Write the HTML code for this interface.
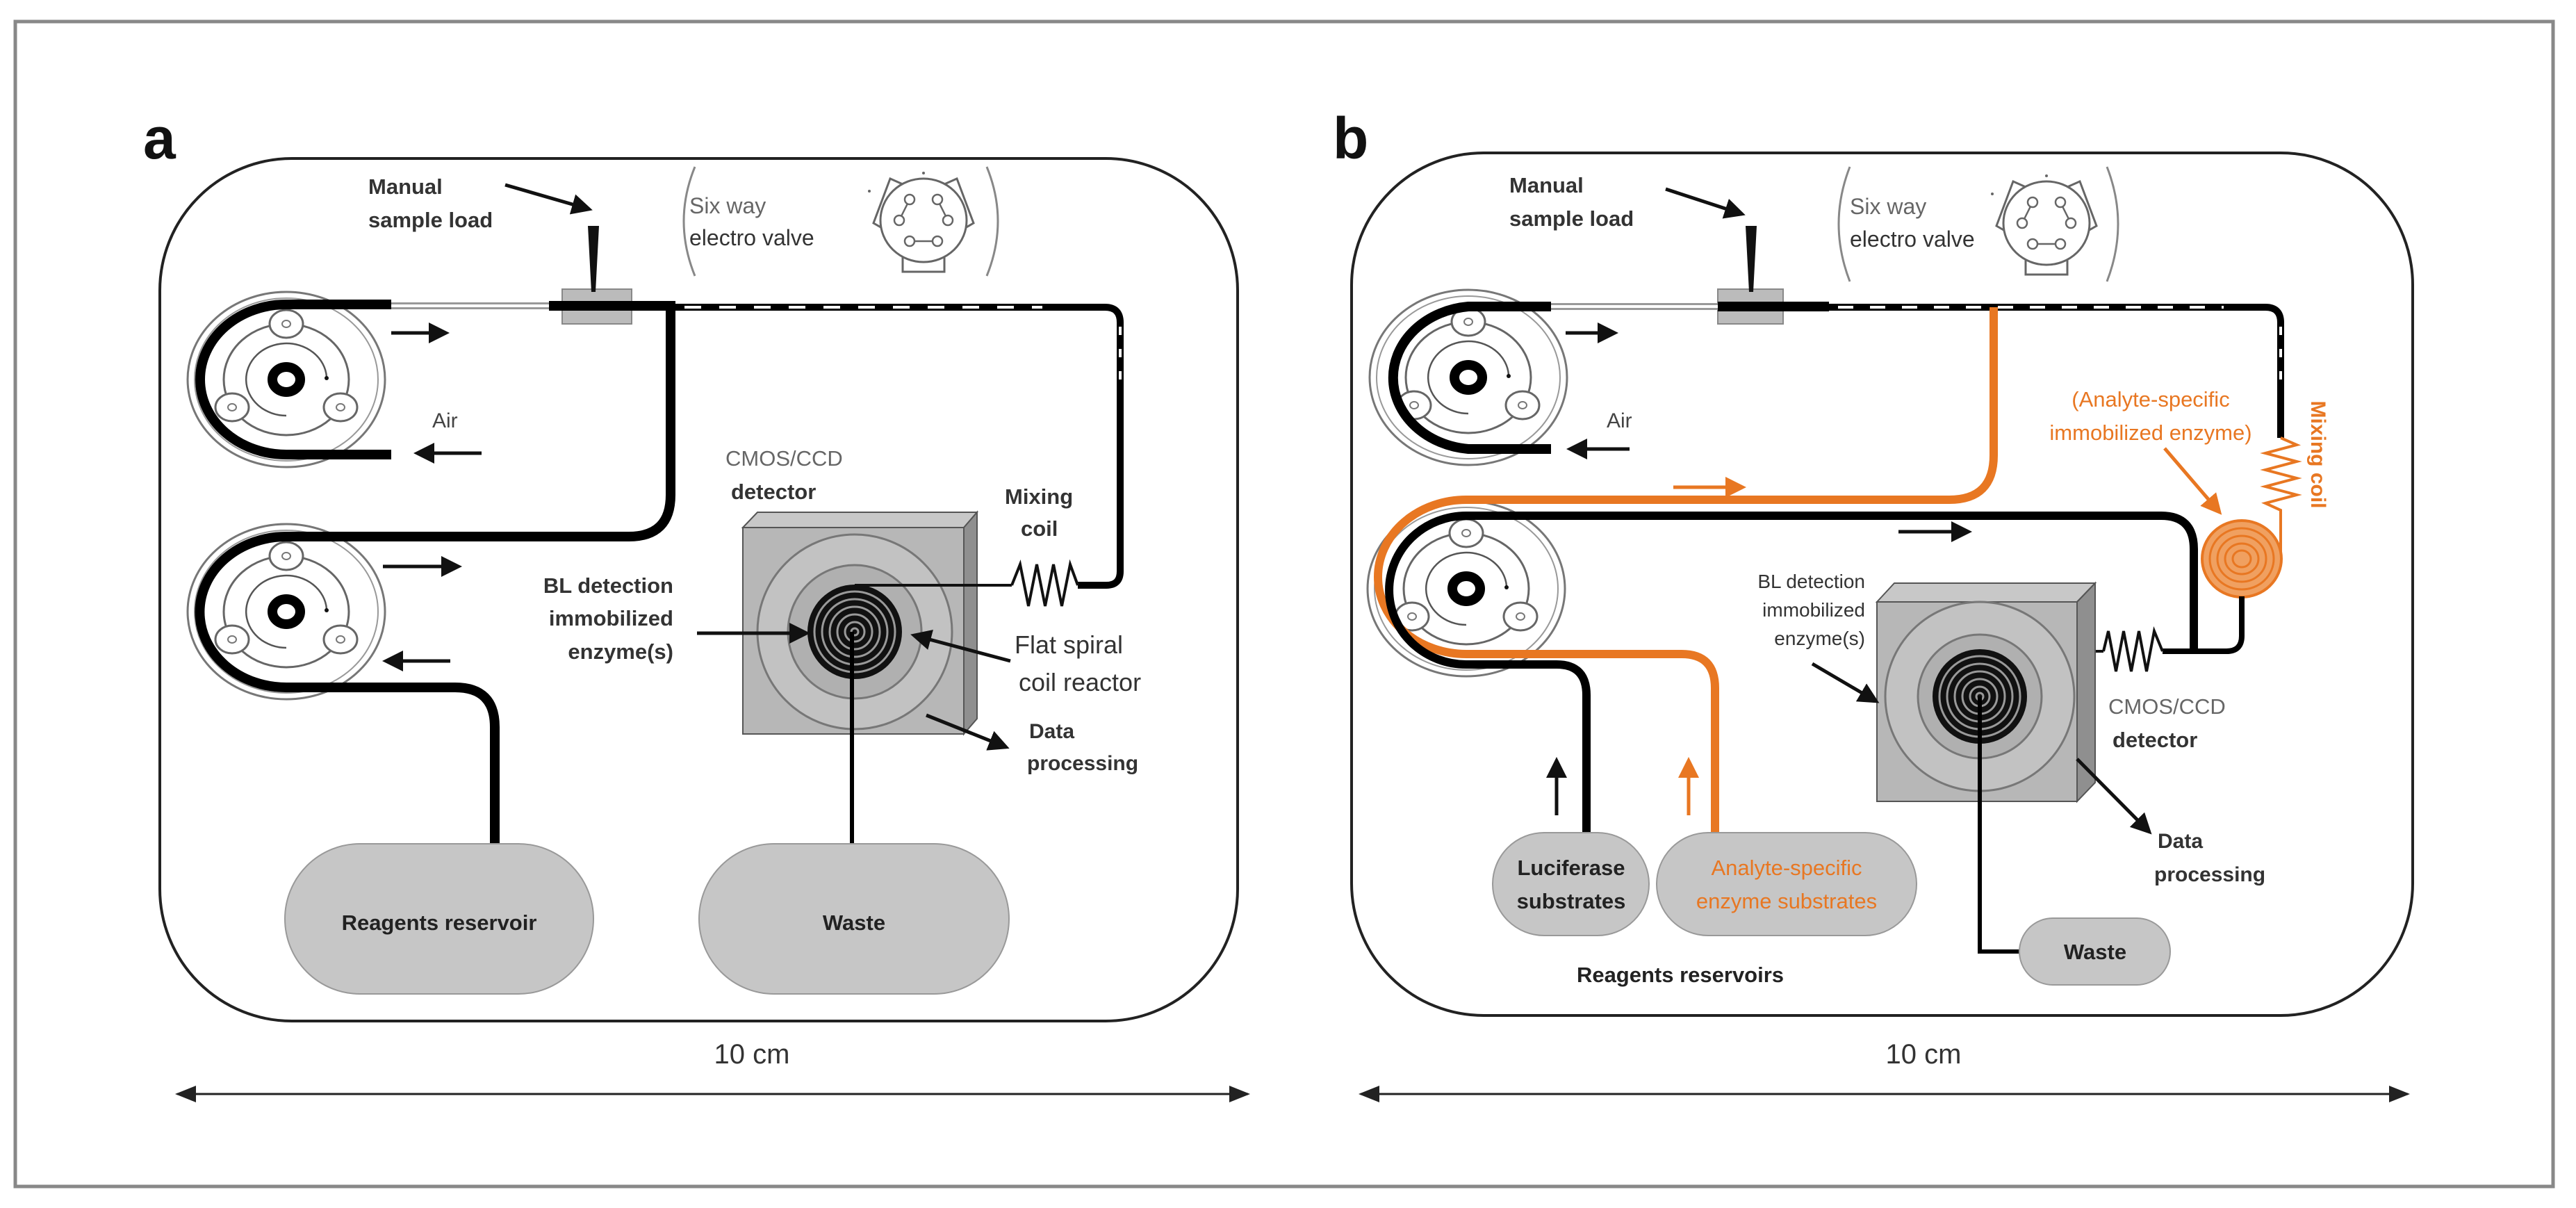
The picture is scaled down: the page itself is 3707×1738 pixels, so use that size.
<!DOCTYPE html>
<html><head><meta charset="utf-8"><style>
html,body{margin:0;padding:0;background:#fff;}
svg{display:block;}
text{font-family:"Liberation Sans",sans-serif;}
</style></head><body>
<svg width="3707" height="1738" viewBox="0 0 3707 1738" xmlns="http://www.w3.org/2000/svg">
<defs>
<marker id="ah" markerWidth="6" markerHeight="6" refX="5" refY="3" orient="auto" markerUnits="strokeWidth"><path d="M0,0 L6,3 L0,6 Z" fill="#111"/></marker>
<marker id="aho" markerWidth="6" markerHeight="6" refX="5" refY="3" orient="auto" markerUnits="strokeWidth"><path d="M0,0 L6,3 L0,6 Z" fill="#e87722"/></marker>
<marker id="ahs" markerWidth="10" markerHeight="10" refX="9" refY="5" orient="auto-start-reverse" markerUnits="strokeWidth"><path d="M0,1 L10,5 L0,9 Z" fill="#222"/></marker>
<g id="pump">
 <ellipse cx="0" cy="0" rx="142" ry="126" fill="#fff" stroke="#777" stroke-width="3"/>
 <ellipse cx="0" cy="0" rx="132" ry="117" fill="none" stroke="#999" stroke-width="2"/>
 <ellipse cx="0" cy="0" rx="90" ry="80" fill="#fff" stroke="#666" stroke-width="3"/>
 <ellipse cx="0" cy="-80" rx="24" ry="20" fill="#fff" stroke="#666" stroke-width="3"/>
 <ellipse cx="-78" cy="40" rx="24" ry="20" fill="#fff" stroke="#666" stroke-width="3"/>
 <ellipse cx="78" cy="40" rx="24" ry="20" fill="#fff" stroke="#666" stroke-width="3"/>
 <ellipse cx="0" cy="-80" rx="6" ry="5" fill="none" stroke="#777" stroke-width="2"/>
 <ellipse cx="-78" cy="40" rx="6" ry="5" fill="none" stroke="#777" stroke-width="2"/>
 <ellipse cx="78" cy="40" rx="6" ry="5" fill="none" stroke="#777" stroke-width="2"/>
 <path d="M0,52 A58,52 0 1 1 58,-4" fill="none" stroke="#555" stroke-width="2.5"/>
 <circle cx="58" cy="-2" r="3" fill="#111"/>
 <ellipse cx="0" cy="0" rx="20" ry="18" fill="#fff" stroke="#000" stroke-width="14"/>
</g>
<g id="valve">
 <polygon points="-48,-60 -30,-52 -58,12 -72,4" fill="#fff" stroke="#666" stroke-width="3"/>
 <polygon points="48,-60 30,-52 58,12 72,4" fill="#fff" stroke="#666" stroke-width="3"/>
 <rect x="-30" y="52" width="60" height="22" fill="#fff" stroke="#666" stroke-width="3"/>
 <ellipse cx="0" cy="0" rx="62" ry="60" fill="#fff" stroke="#666" stroke-width="3"/>
 <circle cx="0" cy="-68" r="2" fill="#666"/><circle cx="-78" cy="-42" r="2" fill="#666"/>
 <circle cx="-20" cy="-30" r="7" fill="#fff" stroke="#666" stroke-width="2.5"/>
 <circle cx="20" cy="-30" r="7" fill="#fff" stroke="#666" stroke-width="2.5"/>
 <circle cx="-35" cy="0" r="7" fill="#fff" stroke="#666" stroke-width="2.5"/>
 <circle cx="35" cy="0" r="7" fill="#fff" stroke="#666" stroke-width="2.5"/>
 <circle cx="-20" cy="30" r="7" fill="#fff" stroke="#666" stroke-width="2.5"/>
 <circle cx="20" cy="30" r="7" fill="#fff" stroke="#666" stroke-width="2.5"/>
 <line x1="-23" y1="-24" x2="-32" y2="-6" stroke="#666" stroke-width="2.5"/>
 <line x1="23" y1="-24" x2="32" y2="-6" stroke="#666" stroke-width="2.5"/>
 <line x1="-13" y1="30" x2="13" y2="30" stroke="#666" stroke-width="2.5"/>
</g>
<g id="spiral">
 <circle r="68" fill="#111"/>
 <circle r="58" fill="none" stroke="#999" stroke-width="3"/>
 <circle r="47" fill="none" stroke="#999" stroke-width="3"/>
 <circle r="36" fill="none" stroke="#999" stroke-width="3"/>
 <circle r="25" fill="none" stroke="#999" stroke-width="3"/>
 <circle r="14" fill="none" stroke="#999" stroke-width="3"/>
 <circle r="5" fill="none" stroke="#999" stroke-width="3"/>
</g>
</defs>

<rect x="22" y="31" width="3652" height="1676" fill="none" stroke="#888" stroke-width="5"/>

<!-- ================= PANEL A ================= -->
<text x="206" y="228" font-size="84" font-weight="bold" fill="#111">a</text>
<rect x="230" y="228" width="1551" height="1241" rx="190" fill="none" stroke="#222" stroke-width="4"/>

<text x="530" y="279" font-size="31" font-weight="bold" fill="#333">Manual</text>
<text x="530" y="327" font-size="31" font-weight="bold" fill="#333">sample load</text>
<line x1="727" y1="266" x2="848" y2="301" stroke="#111" stroke-width="5" marker-end="url(#ah)"/>

<path d="M1000,240 Q968,318 1000,397" fill="none" stroke="#888" stroke-width="3"/>
<path d="M1420,240 Q1452,318 1420,397" fill="none" stroke="#888" stroke-width="3"/>
<text x="992" y="307" font-size="32" fill="#666">Six way</text>
<text x="992" y="353" font-size="32" fill="#333">electro valve</text>
<use href="#valve" x="1329" y="317"/>

<use href="#pump" x="412" y="546"/>
<path d="M563,438 L412,438 A124,108 0 0 0 412,654 L563,654" fill="none" stroke="#000" stroke-width="14"/>
<rect x="809" y="416" width="100" height="50" fill="#bbb" stroke="#888" stroke-width="2"/>
<polygon points="846,325 862,325 857,420 851,420" fill="#111"/>
<line x1="563" y1="440" x2="790" y2="440" stroke="#999" stroke-width="10"/>
<line x1="563" y1="440" x2="790" y2="440" stroke="#fff" stroke-width="4"/>
<line x1="790" y1="440" x2="972" y2="440" stroke="#000" stroke-width="14"/>
<path d="M965,442 L1590,442 Q1612,442 1612,464 L1612,822 Q1612,842 1592,842 L1551,842" fill="none" stroke="#000" stroke-width="10"/>
<line x1="985" y1="442" x2="1500" y2="442" stroke="#fff" stroke-width="4" stroke-dasharray="24 26"/>
<line x1="1612" y1="470" x2="1612" y2="560" stroke="#fff" stroke-width="4" stroke-dasharray="12 20"/>
<polyline points="1551,842 1540,812 1528,872 1516,812 1504,872 1492,812 1480,872 1468,812 1456,842" fill="none" stroke="#111" stroke-width="4"/>
<use href="#pump" x="412" y="880"/>
<path d="M412,772 L905,772 Q965,772 965,712 L965,440" fill="none" stroke="#000" stroke-width="14"/>
<path d="M412,772 A124,108 0 0 0 412,989 L655,989 Q712,989 712,1046 L712,1216" fill="none" stroke="#000" stroke-width="14"/>
<line x1="563" y1="479" x2="642" y2="479" stroke="#111" stroke-width="5" marker-end="url(#ah)"/>
<line x1="693" y1="652" x2="600" y2="652" stroke="#111" stroke-width="5" marker-end="url(#ah)"/>
<text x="622" y="615" font-size="30" fill="#444">Air</text>
<line x1="551" y1="815" x2="660" y2="815" stroke="#111" stroke-width="5" marker-end="url(#ah)"/>
<line x1="648" y1="951" x2="555" y2="951" stroke="#111" stroke-width="5" marker-end="url(#ah)"/>
<polygon points="1069,759 1090,737 1406,737 1387,759" fill="#c8c8c8" stroke="#555" stroke-width="2"/>
<polygon points="1387,759 1406,737 1406,1034 1387,1056" fill="#8f8f8f" stroke="#555" stroke-width="2"/>
<rect x="1069" y="759" width="318" height="297" fill="#b7b7b7" stroke="#555" stroke-width="2"/>
<circle cx="1230" cy="909" r="140" fill="#c2c2c2" stroke="#777" stroke-width="3"/>
<circle cx="1230" cy="909" r="96" fill="#b0b0b0" stroke="#777" stroke-width="3"/>
<use href="#spiral" x="1230" y="909"/>
<line x1="1230" y1="842" x2="1456" y2="842" stroke="#111" stroke-width="4"/>
<line x1="1226" y1="909" x2="1226" y2="1216" stroke="#000" stroke-width="6"/>
<text x="1044" y="670" font-size="31" fill="#666">CMOS/CCD</text>
<text x="1052" y="718" font-size="31" font-weight="bold" fill="#333">detector</text>
<text x="1446" y="725" font-size="31" font-weight="bold" fill="#333">Mixing</text>
<text x="1469" y="771" font-size="31" font-weight="bold" fill="#333">coil</text>
<text x="969" y="853" font-size="31" font-weight="bold" fill="#333" text-anchor="end">BL detection</text>
<text x="969" y="900" font-size="31" font-weight="bold" fill="#333" text-anchor="end">immobilized</text>
<text x="969" y="948" font-size="31" font-weight="bold" fill="#333" text-anchor="end">enzyme(s)</text>
<line x1="1003" y1="911" x2="1161" y2="911" stroke="#111" stroke-width="5" marker-end="url(#ah)"/>
<text x="1460" y="940" font-size="36" fill="#333">Flat spiral</text>
<text x="1466" y="994" font-size="36" fill="#333">coil reactor</text>
<line x1="1454" y1="951" x2="1315" y2="914" stroke="#111" stroke-width="5" marker-end="url(#ah)"/>
<line x1="1333" y1="1029" x2="1448" y2="1075" stroke="#111" stroke-width="5" marker-end="url(#ah)"/>
<text x="1481" y="1062" font-size="30" font-weight="bold" fill="#333">Data</text>
<text x="1478" y="1108" font-size="30" font-weight="bold" fill="#333">processing</text>
<rect x="410" y="1214" width="444" height="216" rx="108" fill="#c6c6c6" stroke="#999" stroke-width="2"/>
<text x="632" y="1338" font-size="31" font-weight="bold" fill="#222" text-anchor="middle">Reagents reservoir</text>
<rect x="1006" y="1214" width="446" height="216" rx="108" fill="#c6c6c6" stroke="#999" stroke-width="2"/>
<text x="1229" y="1338" font-size="31" font-weight="bold" fill="#222" text-anchor="middle">Waste</text>
<text x="1082" y="1530" font-size="40" fill="#333" text-anchor="middle">10 cm</text>
<line x1="255" y1="1574" x2="1796" y2="1574" stroke="#222" stroke-width="3" marker-start="url(#ahs)" marker-end="url(#ahs)"/>

<!-- ================= PANEL B ================= -->
<text x="1918" y="228" font-size="84" font-weight="bold" fill="#111">b</text>
<rect x="1945" y="220" width="1527" height="1241" rx="190" fill="none" stroke="#222" stroke-width="4"/>

<text x="2172" y="277" font-size="31" font-weight="bold" fill="#333">Manual</text>
<text x="2172" y="325" font-size="31" font-weight="bold" fill="#333">sample load</text>
<line x1="2397" y1="272" x2="2507" y2="308" stroke="#111" stroke-width="5" marker-end="url(#ah)"/>

<path d="M2662,240 Q2630,322 2662,405" fill="none" stroke="#888" stroke-width="3"/>
<path d="M3032,240 Q3064,322 3032,405" fill="none" stroke="#888" stroke-width="3"/>
<text x="2662" y="308" font-size="32" fill="#666">Six way</text>
<text x="2662" y="355" font-size="32" fill="#333">electro valve</text>
<use href="#valve" x="2945" y="321"/>

<use href="#pump" x="2113" y="543"/>
<path d="M2232,441 L2113,441 A120,103 0 0 0 2113,646 L2232,646" fill="none" stroke="#000" stroke-width="14"/>
<rect x="2472" y="416" width="94" height="50" fill="#bbb" stroke="#888" stroke-width="2"/>
<polygon points="2512,325 2528,325 2523,420 2517,420" fill="#111"/>
<line x1="2232" y1="441" x2="2472" y2="441" stroke="#999" stroke-width="10"/>
<line x1="2232" y1="441" x2="2472" y2="441" stroke="#fff" stroke-width="4"/>
<line x1="2472" y1="441" x2="2632" y2="441" stroke="#000" stroke-width="14"/>
<path d="M2632,442 L3260,442 Q3282,442 3282,464 L3282,630" fill="none" stroke="#000" stroke-width="10"/>
<line x1="2645" y1="442" x2="3200" y2="442" stroke="#fff" stroke-width="4" stroke-dasharray="22 24"/>
<line x1="3282" y1="470" x2="3282" y2="560" stroke="#fff" stroke-width="4" stroke-dasharray="12 20"/>
<polyline points="3282,630 3305,640 3260,652 3305,664 3260,676 3305,688 3260,700 3305,712 3260,724 3282,734 3282,800" fill="none" stroke="#e87722" stroke-width="4"/>
<text transform="translate(3326,654) rotate(90)" font-size="30" font-weight="bold" fill="#e87722" text-anchor="middle">Mixing coil</text>
<ellipse cx="3226" cy="804" rx="57" ry="55" fill="#f0a060" stroke="#e87722" stroke-width="4"/>
<ellipse cx="3226" cy="804" rx="46" ry="44" fill="none" stroke="#e87722" stroke-width="3"/>
<ellipse cx="3226" cy="804" rx="35" ry="33" fill="none" stroke="#e87722" stroke-width="3"/>
<ellipse cx="3226" cy="804" rx="24" ry="22" fill="none" stroke="#e87722" stroke-width="3"/>
<ellipse cx="3226" cy="804" rx="13" ry="12" fill="none" stroke="#e87722" stroke-width="3"/>
<text x="3095" y="585" font-size="31" fill="#e87722" text-anchor="middle">(Analyte-specific</text>
<text x="3095" y="633" font-size="31" fill="#e87722" text-anchor="middle">immobilized enzyme)</text>
<line x1="3115" y1="645" x2="3194" y2="737" stroke="#e87722" stroke-width="5" marker-end="url(#aho)"/>

<use href="#pump" x="2110" y="847"/>
<path d="M2869,442 L2869,655 Q2869,719 2805,719 L2110,719 A127,111 0 0 0 2110,941 L2420,941 Q2468,941 2468,990 L2468,1198" fill="none" stroke="#e87722" stroke-width="12"/>
<path d="M3226,858 L3226,915 Q3226,937 3204,937 L3112,937" fill="none" stroke="#000" stroke-width="8"/>
<path d="M2110,742 L3110,742 Q3157,742 3157,790 L3157,937" fill="none" stroke="#000" stroke-width="12"/>
<path d="M2110,742 A111,107 0 0 0 2110,956 L2240,956 Q2283,956 2283,1000 L2283,1198" fill="none" stroke="#000" stroke-width="12"/>
<polyline points="3112,937 3100,908 3089,966 3078,908 3067,966 3056,908 3045,966 3034,908 3027,937" fill="none" stroke="#111" stroke-width="4"/>
<line x1="3027" y1="937" x2="2849" y2="937" stroke="#111" stroke-width="4"/>
<line x1="2253" y1="479" x2="2324" y2="479" stroke="#111" stroke-width="5" marker-end="url(#ah)"/>
<line x1="2345" y1="646" x2="2259" y2="646" stroke="#111" stroke-width="5" marker-end="url(#ah)"/>
<text x="2312" y="615" font-size="30" fill="#444">Air</text>
<line x1="2408" y1="701" x2="2508" y2="701" stroke="#e87722" stroke-width="5" marker-end="url(#aho)"/>
<line x1="2732" y1="765" x2="2833" y2="765" stroke="#111" stroke-width="5" marker-end="url(#ah)"/>
<line x1="2240" y1="1173" x2="2240" y2="1094" stroke="#111" stroke-width="5" marker-end="url(#ah)"/>
<line x1="2430" y1="1173" x2="2430" y2="1094" stroke="#e87722" stroke-width="5" marker-end="url(#aho)"/>
<polygon points="2701,866 2726,839 3015,839 2989,866" fill="#c8c8c8" stroke="#555" stroke-width="2"/>
<polygon points="2989,866 3015,839 3015,1126 2989,1153" fill="#8f8f8f" stroke="#555" stroke-width="2"/>
<rect x="2701" y="866" width="288" height="287" fill="#b7b7b7" stroke="#555" stroke-width="2"/>
<circle cx="2849" cy="1002" r="136" fill="#c2c2c2" stroke="#777" stroke-width="3"/>
<circle cx="2849" cy="1002" r="89" fill="#b0b0b0" stroke="#777" stroke-width="3"/>
<use href="#spiral" x="2849" y="1002"/>
<path d="M2849,1002 L2849,1369 L2906,1369" fill="none" stroke="#000" stroke-width="6"/>
<text x="2684" y="846" font-size="28" fill="#333" text-anchor="end">BL detection</text>
<text x="2684" y="887" font-size="28" fill="#333" text-anchor="end">immobilized</text>
<text x="2684" y="928" font-size="28" fill="#333" text-anchor="end">enzyme(s)</text>
<line x1="2608" y1="955" x2="2700" y2="1009" stroke="#111" stroke-width="5" marker-end="url(#ah)"/>
<text x="3034" y="1027" font-size="31" fill="#666">CMOS/CCD</text>
<text x="3040" y="1075" font-size="31" font-weight="bold" fill="#333">detector</text>
<line x1="2989" y1="1092" x2="3093" y2="1197" stroke="#111" stroke-width="5" marker-end="url(#ah)"/>
<text x="3105" y="1220" font-size="30" font-weight="bold" fill="#333">Data</text>
<text x="3100" y="1268" font-size="30" font-weight="bold" fill="#333">processing</text>
<rect x="2148" y="1198" width="225" height="148" rx="74" fill="#c6c6c6" stroke="#999" stroke-width="2"/>
<text x="2261" y="1259" font-size="31" font-weight="bold" fill="#222" text-anchor="middle">Luciferase</text>
<text x="2261" y="1307" font-size="31" font-weight="bold" fill="#222" text-anchor="middle">substrates</text>
<rect x="2384" y="1198" width="374" height="148" rx="74" fill="#c6c6c6" stroke="#999" stroke-width="2"/>
<text x="2571" y="1259" font-size="31" fill="#e87722" text-anchor="middle">Analyte-specific</text>
<text x="2571" y="1307" font-size="31" fill="#e87722" text-anchor="middle">enzyme substrates</text>
<text x="2418" y="1413" font-size="31" font-weight="bold" fill="#222" text-anchor="middle">Reagents reservoirs</text>
<rect x="2906" y="1321" width="217" height="96" rx="48" fill="#c6c6c6" stroke="#999" stroke-width="2"/>
<text x="3015" y="1380" font-size="31" font-weight="bold" fill="#222" text-anchor="middle">Waste</text>
<text x="2768" y="1530" font-size="40" fill="#333" text-anchor="middle">10 cm</text>
<line x1="1958" y1="1574" x2="3465" y2="1574" stroke="#222" stroke-width="3" marker-start="url(#ahs)" marker-end="url(#ahs)"/>
</svg>
</body></html>
